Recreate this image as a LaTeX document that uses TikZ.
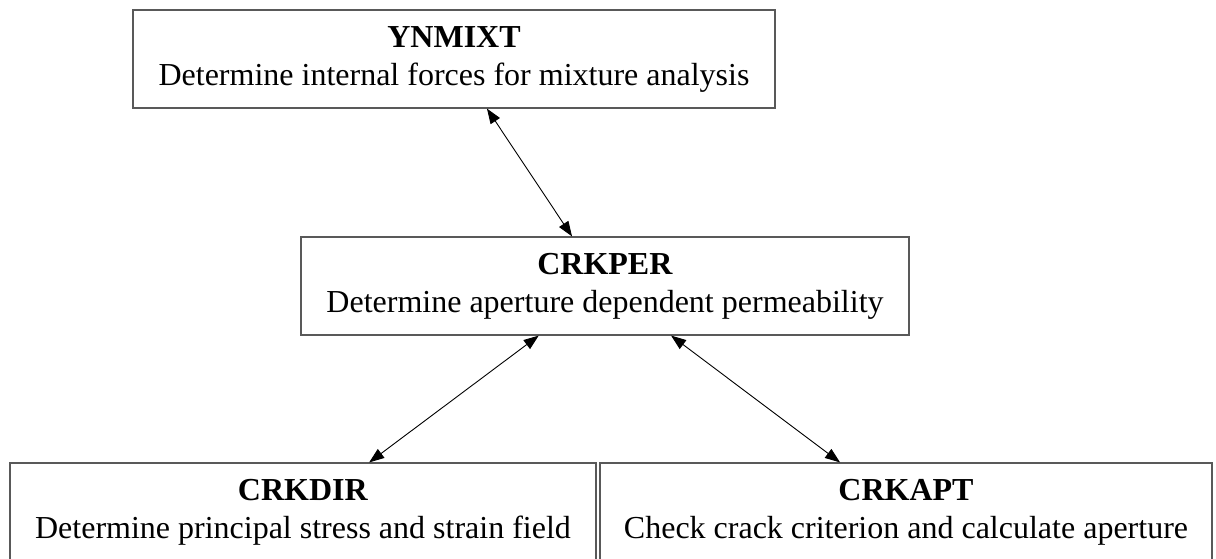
\documentclass[tikz,border=0pt]{standalone}
\usepackage{fontspec}
\setmainfont{Liberation Serif}
\usetikzlibrary{arrows.meta}
\begin{document}
\begin{tikzpicture}[x=0.5pt,y=-0.5pt,
  modbox/.style={draw=black!65, line width=0.6pt, minimum height=49pt,
    align=center, inner sep=0pt, font=\fontsize{16}{19}\selectfont},
  link/.style={{Triangle[length=7.5pt,width=5.5pt]}-{Triangle[length=7.5pt,width=5.5pt]},
    line width=0.45pt}]
\useasboundingbox (0,0) rectangle (1216,558);
\node[modbox, minimum width=321pt] (ynmixt) at (454,59)
  {\textbf{YNMIXT}\\Determine internal forces for mixture analysis};
\node[modbox, minimum width=304pt] (crkper) at (605,286)
  {\textbf{CRKPER}\\Determine aperture dependent permeability};
\node[modbox, minimum width=293pt] (crkdir) at (303,512)
  {\textbf{CRKDIR}\\Determine principal stress and strain field};
\node[modbox, minimum width=306pt] (crkapt) at (906,512)
  {\textbf{CRKAPT}\\Check crack criterion and calculate aperture};
\draw[link] (ynmixt) -- (crkper);
\draw[link] (crkper) -- (crkdir);
\draw[link] (crkper) -- (crkapt);
\end{tikzpicture}
\end{document}
